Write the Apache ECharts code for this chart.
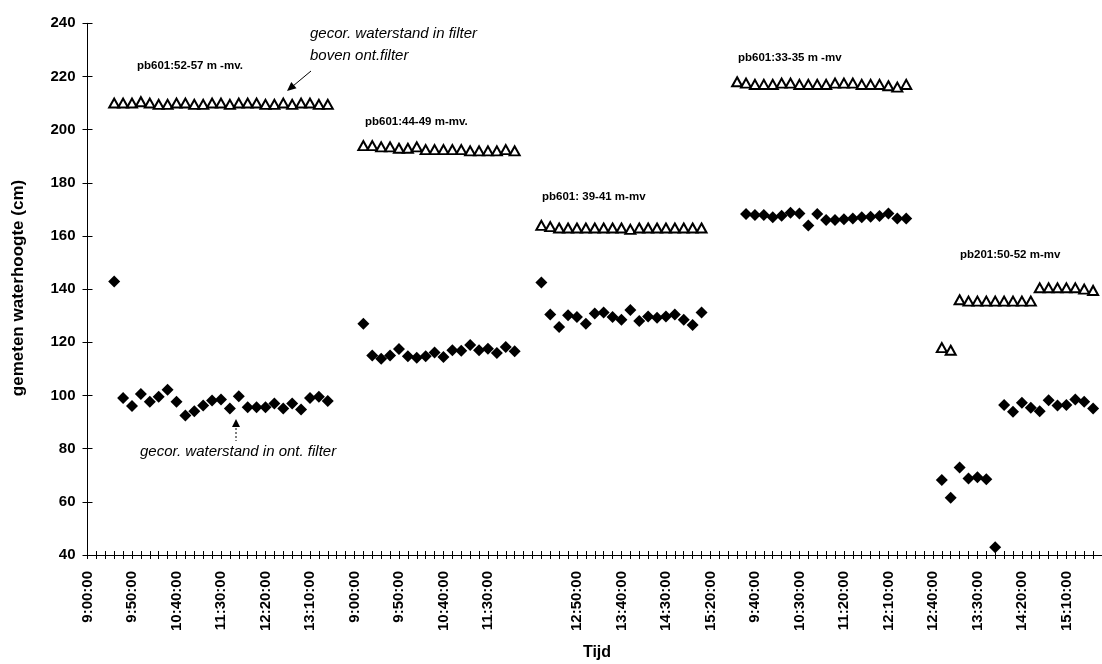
<!DOCTYPE html>
<html>
<head>
<meta charset="utf-8">
<script src="https://cdn.jsdelivr.net/npm/echarts@6/dist/echarts.min.js"></script>
<style>
html,body{margin:0;padding:0;background:#fff;}
#chart{width:1102px;height:664px;}
</style>
</head>
<body>
<div id="chart"></div>
<script>
// Tick labels shown every 5th category ('' = no label shown there)
const tickLabels = ['9:00:00','9:50:00','10:40:00','11:30:00','12:20:00','13:10:00',
  '9:00:00','9:50:00','10:40:00','11:30:00','','12:50:00','13:40:00','14:30:00','15:20:00',
  '9:40:00','10:30:00','11:20:00','12:10:00','12:40:00','13:30:00','14:20:00','15:10:00'];
const categoryCount = 115;
const labelStep = 5;

// Start category of each measurement block
const groupStartDiamond = [3, 31, 51, 74, 96];
const groupStartTriangle = [3, 31, 51, 73, 96];

// gecor. waterstand in ont. filter (diamonds)
const ont1 = [142.9, 99.1, 96.0, 100.6, 97.6, 99.5, 102.2, 97.6, 92.5, 94.1, 96.2, 98.1, 98.5, 95.1, 99.7, 95.6, 95.6, 95.6, 97.0, 95.1, 97.0, 94.7, 99.1, 99.5, 97.9];
const ont2 = [127.0, 115.0, 113.8, 115.0, 117.5, 114.8, 114.2, 114.8, 116.2, 114.5, 117.0, 116.8, 119.0, 117.0, 117.6, 116.0, 118.2, 116.6];
const ont3 = [142.5, 130.5, 125.8, 130.2, 129.5, 127.0, 130.8, 131.2, 129.5, 128.5, 132.2, 128.0, 129.7, 129.2, 129.7, 130.5, 128.5, 126.5, 131.2];
const ont4 = [168.3, 167.9, 167.9, 167.0, 167.6, 168.7, 168.5, 163.9, 168.3, 166.0, 166.0, 166.3, 166.6, 167.0, 167.2, 167.5, 168.5, 166.6, 166.6];
const ont5 = [68.2, 61.5, 72.9, 68.8, 69.2, 68.5, 42.9, 96.4, 93.9, 97.3, 95.4, 94.1, 98.2, 96.2, 96.4, 98.5, 97.6, 95.1];

// gecor. waterstand in filter boven ont.filter (open triangles)
const bov1 = [210, 210, 210, 210.5, 210, 209.5, 209.5, 210, 210, 209.5, 209.5, 210, 210, 209.5, 210, 210, 210, 209.5, 209.5, 210, 209.5, 210, 210, 209.5, 209.5];
const bov2 = [194, 194, 193.5, 193.5, 193, 193, 193.5, 192.5, 192.5, 192.5, 192.5, 192.5, 192, 192, 192, 192, 192.5, 192];
const bov3 = [164, 163.5, 163, 163, 163, 163, 163, 163, 163, 163, 162.5, 163, 163, 163, 163, 163, 163, 163, 163];
const bov4 = [218, 217.5, 217, 217, 217, 217.5, 217.5, 217, 217, 217, 217, 217.5, 217.5, 217.5, 217, 217, 217, 216.5, 216, 217];
const bov5 = [118, 117, 136, 135.5, 135.5, 135.5, 135.5, 135.5, 135.5, 135.5, 135.5, 140.5, 140.5, 140.5, 140.5, 140.5, 140, 139.5];

const ontGroups = [ont1, ont2, ont3, ont4, ont5];
const bovGroups = [bov1, bov2, bov3, bov4, bov5];

const categories = [];
for (let i = 0; i < categoryCount; i++) {
  const k = i / labelStep;
  categories.push(i % labelStep === 0 && k < tickLabels.length ? tickLabels[k] : '');
}
function toPairs(groups, starts) {
  const out = [];
  groups.forEach((g, gi) => g.forEach((v, j) => out.push([starts[gi] + j, v])));
  return out;
}
const ontData = toPairs(ontGroups, groupStartDiamond);
const bovData = toPairs(bovGroups, groupStartTriangle);

const FONT = '"Liberation Sans", Arial, sans-serif';
const chart = echarts.init(document.getElementById('chart'), null, {renderer: 'canvas'});

const txt = (text, x, y, font, align) => ({
  type: 'text', x: x, y: y, z: 100,
  style: {text: text, font: font, fill: '#000', align: align || 'left', verticalAlign: 'middle'}
});

chart.setOption({
  animation: false,
  backgroundColor: '#fff',
  grid: {left: 87.5, right: -4.7, top: 23.3, bottom: 109, containLabel: false},
  xAxis: [{
    type: 'category', data: categories, boundaryGap: false, position: 'bottom',
    axisLine: {show: true, lineStyle: {color: '#000', width: 1}},
    axisTick: {show: true, interval: 0, length: 4, lineStyle: {color: '#000', width: 1}},
    axisLabel: {interval: 0, rotate: 90, fontSize: 15, fontWeight: 'bold', color: '#000', margin: 16, fontFamily: FONT},
    splitLine: {show: false}
  }, {
    type: 'category', data: categories, boundaryGap: false, position: 'bottom',
    axisLine: {show: false},
    axisTick: {show: true, inside: true, interval: 0, length: 4, lineStyle: {color: '#000', width: 1}},
    axisLabel: {show: false}, splitLine: {show: false}
  }],
  yAxis: [{
    type: 'value', min: 40, max: 240, interval: 20, position: 'left',
    axisLine: {show: true, lineStyle: {color: '#000', width: 1}},
    axisTick: {show: true, length: 5, lineStyle: {color: '#000', width: 1}},
    axisLabel: {fontSize: 15, fontWeight: 'bold', color: '#000', margin: 12, fontFamily: FONT},
    splitLine: {show: false}
  }, {
    type: 'value', min: 40, max: 240, interval: 20, position: 'left',
    axisLine: {show: false},
    axisTick: {show: true, inside: true, length: 5, lineStyle: {color: '#000', width: 1}},
    axisLabel: {show: false}, splitLine: {show: false}
  }],
  series: [{
    name: 'gecor. waterstand in ont. filter', type: 'scatter', xAxisIndex: 0, yAxisIndex: 0,
    data: ontData, symbol: 'diamond', symbolSize: [12, 12],
    itemStyle: {color: '#000', opacity: 1}
  }, {
    name: 'gecor. waterstand in filter boven ont.filter', type: 'scatter', xAxisIndex: 0, yAxisIndex: 0,
    data: bovData, symbol: 'triangle', symbolSize: [10, 9],
    itemStyle: {color: '#fff', borderColor: '#000', borderWidth: 2, opacity: 1}
  }],
  graphic: [
    {type: 'text', x: 18, y: 288, rotation: Math.PI / 2, z: 100,
     style: {text: 'gemeten waterhoogte (cm)', font: 'bold 17px ' + FONT, fill: '#000', align: 'center', verticalAlign: 'middle'}},
    txt('Tijd', 597, 653, 'bold 16px ' + FONT, 'center'),
    txt('pb601:52-57 m -mv.', 137, 66, 'bold 11.5px ' + FONT),
    txt('pb601:44-49 m-mv.', 365, 122, 'bold 11.5px ' + FONT),
    txt('pb601: 39-41 m-mv', 542, 197, 'bold 11.5px ' + FONT),
    txt('pb601:33-35 m -mv', 738, 58, 'bold 11.5px ' + FONT),
    txt('pb201:50-52 m-mv', 960, 255, 'bold 11.5px ' + FONT),
    txt('gecor. waterstand in filter', 310, 34, 'italic 15px ' + FONT),
    txt('boven ont.filter', 310, 56, 'italic 15px ' + FONT),
    txt('gecor. waterstand in ont. filter', 140, 452, 'italic 15px ' + FONT),
    {type: 'line', z: 100, shape: {x1: 311, y1: 71, x2: 293, y2: 86}, style: {stroke: '#000', lineWidth: 1}},
    {type: 'polygon', z: 100, shape: {points: [[287, 91], [296.5, 88.3], [291.3, 82.1]]}, style: {fill: '#000'}},
    {type: 'line', z: 100, shape: {x1: 236, y1: 428, x2: 236, y2: 441}, style: {stroke: '#000', lineWidth: 1, lineDash: [2, 2]}},
    {type: 'polygon', z: 100, shape: {points: [[236, 419], [232, 427], [240, 427]]}, style: {fill: '#000'}}
  ]
});
</script>
</body>
</html>
